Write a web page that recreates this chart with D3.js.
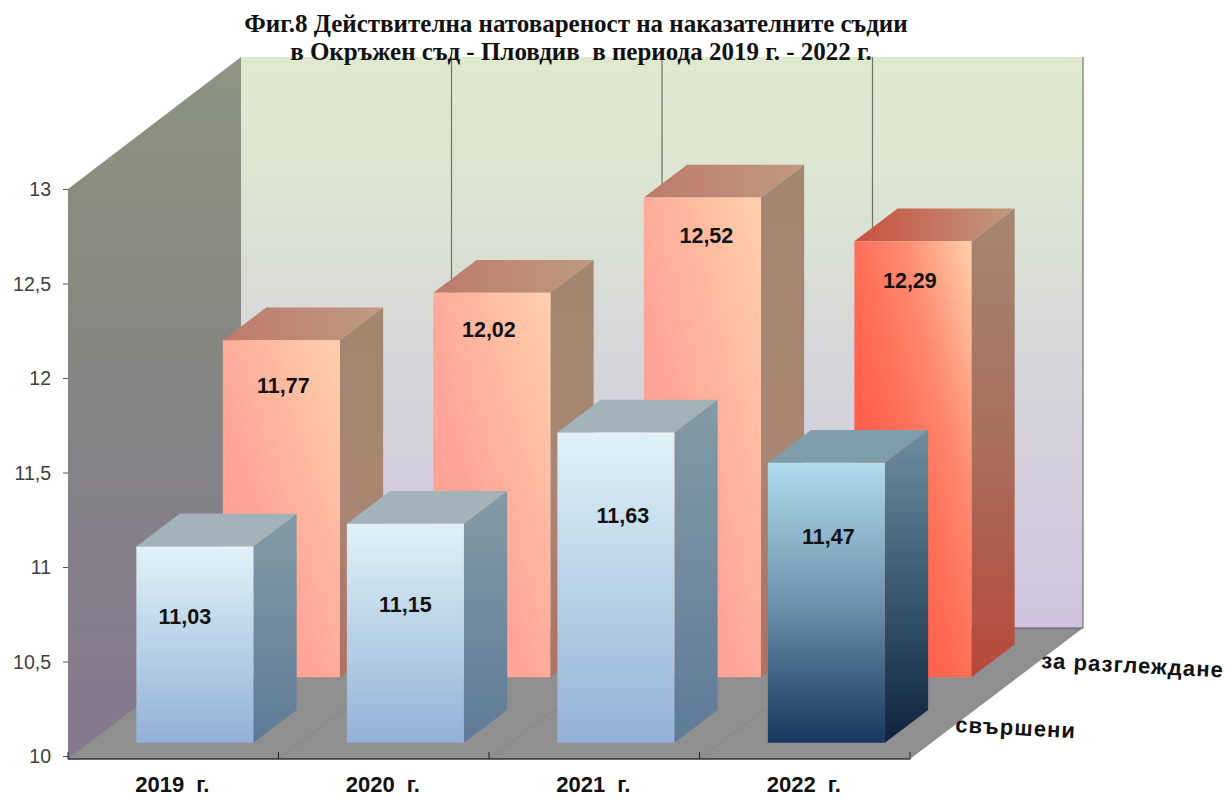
<!DOCTYPE html>
<html>
<head>
<meta charset="utf-8">
<script src="https://cdn.jsdelivr.net/npm/d3@7"></script>
<style>
  html, body { margin: 0; padding: 0; background: #fff; }
  svg { display: block; }
  .title { font-family: "Liberation Serif", serif; font-weight: bold; font-size: 25px; fill: #111; text-anchor: middle; white-space: pre; }
  .axis_label { font-family: "Liberation Sans", sans-serif; font-size: 19.5px; fill: #404040; text-anchor: end; }
  .cat_label { font-family: "Liberation Sans", sans-serif; font-weight: bold; font-size: 22px; word-spacing: 6px; fill: #111; text-anchor: middle; }
  .val_label { font-family: "Liberation Sans", sans-serif; font-weight: bold; font-size: 21.5px; fill: #111; text-anchor: middle; }
  .series_label { font-family: "Liberation Sans", sans-serif; font-weight: bold; font-size: 22px; letter-spacing: 1.1px; fill: #111; }
</style>
</head>
<body>
<div id="chart"></div>
<script>
var width = 1225, height = 798;

var categories = ["2019 г.", "2020 г.", "2021 г.", "2022 г."];
var seriesNames = ["свършени", "за разглеждане"];
var done = [11.03, 11.15, 11.63, 11.47];
var pending = [11.77, 12.02, 12.52, 12.29];
var yTicks = [10, 10.5, 11, 11.5, 12, 12.5, 13];
var titleLines = ["Фиг.8 Действителна натовареност на наказателните съдии",
                  "в Окръжен съд - Пловдив  в периода 2019 г. - 2022 г."];

var svg = d3.select("#chart").append("svg")
    .attr("width", width)
    .attr("height", height);
var defs = svg.append("defs");

// front plane scales
var x = d3.scaleBand().domain(categories).range([68, 910]).paddingInner(0.444).paddingOuter(0.222);
var xGrid = d3.scaleLinear().domain([0, 4]).range([68, 910]);
var y = d3.scaleLinear().domain([10, 13]).range([756, 189]);
// bars and back wall are a little taller than the printed axis
var h = d3.scaleLinear().domain([10, 13]).range([0, 571]);
// depth, 0 = front edge of the floor, 2 = back wall
var zx = d3.scaleLinear().domain([0, 2]).range([0, 173]);
var zy = d3.scaleLinear().domain([0, 2]).range([0, 131]);

var floorY = 759;
function px(xv, z) { return xv + zx(z); }
function py(val, z) { return floorY - zy(z) - h(val); }
function poly(pts) { return pts.map(function(p) { return p[0] + "," + p[1]; }).join(" "); }

function gradient(id, x1, y1, x2, y2, stops) {
    var g = defs.append("linearGradient").attr("id", id)
        .attr("x1", x1).attr("y1", y1).attr("x2", x2).attr("y2", y2);
    stops.forEach(function(s) {
        g.append("stop").attr("offset", s[0]).attr("stop-color", s[1]);
    });
}

gradient("wallBack", 0, 0, 0, 1, [[0, "#dfe9cf"], [0.2, "#dde6d0"], [0.55, "#d5d5da"], [1, "#cfc3df"]]);
gradient("wallLeft", 0, 0, 0, 1, [[0, "#8d9480"], [0.3, "#878a80"], [0.65, "#848088"], [1, "#86788f"]]);
gradient("redFront", 0, 1, 1, 0, [[0, "#ff9c90"], [0.4, "#ffa598"], [0.7, "#ffbaa0"], [1, "#ffd0ac"]]);
gradient("redSide", 0, 0, 0, 1, [[0, "#a3866f"], [0.55, "#a98673"], [1, "#b0705f"]]);
gradient("redTop", 0, 0, 1, 0, [[0, "#bd7a6b"], [1, "#c09a80"]]);
gradient("hotFront", 0, 1, 1, 0, [[0, "#ff4036"], [0.5, "#ff7058"], [0.7, "#ff8a70"], [1, "#ffd0aa"]]);
gradient("hotSide", 0, 0, 0, 1, [[0, "#a58670"], [0.5, "#a86f5c"], [1, "#b8483a"]]);
gradient("hotTop", 0, 0, 1, 0, [[0, "#c9503f"], [1, "#c09a80"]]);
gradient("blueFront", 0, 0, 0, 1, [[0, "#e0f1f8"], [0.5, "#bad2e6"], [1, "#94b0d8"]]);
gradient("blueSide", 0, 0, 0, 1, [[0, "#839ba5"], [1, "#5f7a98"]]);
gradient("darkFront", 0, 0, 0, 1, [[0, "#b0dcec"], [0.5, "#6c93ae"], [1, "#17375e"]]);
gradient("darkSide", 0, 0, 0, 1, [[0, "#6f8e9e"], [0.5, "#3b5a72"], [1, "#10233e"]]);

// walls and floor
svg.append("polygon").attr("fill", "url(#wallLeft)")
    .attr("points", poly([[68, y(13)], [px(68, 2), py(13, 2)], [px(68, 2), py(10, 2)], [68, floorY]]));
svg.append("polygon").attr("fill", "url(#wallBack)")
    .attr("points", poly([[px(68, 2), py(13, 2)], [px(910, 2), py(13, 2)], [px(910, 2), py(10, 2)], [px(68, 2), py(10, 2)]]));
svg.append("polygon").attr("fill", "#8f8f8f")
    .attr("points", poly([[68, floorY], [910, floorY], [px(910, 2), py(10, 2)], [px(68, 2), py(10, 2)]]));

// gridlines on the back wall and the floor
d3.range(1, 5).forEach(function(i) {
    svg.append("line").attr("stroke", "#6f7468").attr("stroke-width", 1.2)
        .attr("x1", px(xGrid(i), 2)).attr("x2", px(xGrid(i), 2))
        .attr("y1", py(13, 2)).attr("y2", py(10, 2));
});
d3.range(0, 4).forEach(function(i) {
    svg.append("line").attr("stroke", "#858585").attr("stroke-width", 1)
        .attr("x1", xGrid(i)).attr("y1", floorY)
        .attr("x2", px(xGrid(i), 2)).attr("y2", py(10, 2));
});
svg.append("line").attr("stroke", "#5d5a6b").attr("stroke-width", 1)
    .attr("x1", px(68, 2)).attr("x2", px(910, 2)).attr("y1", py(10, 2)).attr("y2", py(10, 2));

// one box: front, top and side faces
function drawBar(cat, val, z, front, side, top) {
    var x0 = x(cat), x1 = x0 + x.bandwidth();
    var z0 = z + 0.25, z1 = z + 0.75;
    var g = svg.append("g");
    g.append("polygon").attr("fill", top)
        .attr("points", poly([[px(x0, z0), py(val, z0)], [px(x1, z0), py(val, z0)], [px(x1, z1), py(val, z1)], [px(x0, z1), py(val, z1)]]));
    g.append("polygon").attr("fill", side)
        .attr("points", poly([[px(x1, z0), py(val, z0)], [px(x1, z1), py(val, z1)], [px(x1, z1), py(10, z1)], [px(x1, z0), py(10, z0)]]));
    g.append("polygon").attr("fill", front)
        .attr("points", poly([[px(x0, z0), py(val, z0)], [px(x1, z0), py(val, z0)], [px(x1, z0), py(10, z0)], [px(x0, z0), py(10, z0)]]));
}

// back row first, front row is over it
categories.forEach(function(c, i) {
    var last = i == categories.length - 1;
    drawBar(c, pending[i], 1, last ? "url(#hotFront)" : "url(#redFront)", last ? "url(#hotSide)" : "url(#redSide)", last ? "url(#hotTop)" : "url(#redTop)");
});
categories.forEach(function(c, i) {
    var last = i == categories.length - 1;
    drawBar(c, done[i], 0, last ? "url(#darkFront)" : "url(#blueFront)", last ? "url(#darkSide)" : "url(#blueSide)", last ? "#7f9dab" : "#a3b3ba");
});

// value labels are hand placed in the original, so nudge each one from its bar
var nudgeBackX = [2, -3, 4, -3], nudgeBackY = [53, 44, 46, 47];
var nudgeFrontX = [-10, 0, 7, 2], nudgeFrontY = [77, 88, 91, 81];
function fmt(v) { return v.toFixed(2).replace(".", ","); }
categories.forEach(function(c, i) {
    svg.append("text").attr("class", "val_label")
        .attr("x", px(x(c), 1.25) + x.bandwidth() / 2 + nudgeBackX[i])
        .attr("y", py(pending[i], 1.25) + nudgeBackY[i])
        .text(fmt(pending[i]));
    svg.append("text").attr("class", "val_label")
        .attr("x", px(x(c), 0.25) + x.bandwidth() / 2 + nudgeFrontX[i])
        .attr("y", py(done[i], 0.25) + nudgeFrontY[i])
        .text(fmt(done[i]));
});

// axes
var yAxis = d3.axisLeft(y).tickValues(yTicks).tickSize(5).tickFormat(function() { return ""; });
var yg = svg.append("g").attr("transform", "translate(68,0)").call(yAxis);
yg.select(".domain").remove();
yg.selectAll("line").attr("stroke", "#555");
yTicks.forEach(function(t) {
    svg.append("text").attr("class", "axis_label")
        .attr("x", 51).attr("y", y(t) + 7)
        .text(String(t).replace(".", ","));
});

svg.append("line").attr("stroke", "#333").attr("stroke-width", 1.5)
    .attr("x1", 68).attr("x2", 910).attr("y1", floorY).attr("y2", floorY);
d3.range(0, 5).forEach(function(i) {
    svg.append("line").attr("stroke", "#222")
        .attr("x1", xGrid(i)).attr("x2", xGrid(i)).attr("y1", floorY - 7).attr("y2", floorY);
});

categories.forEach(function(c) {
    svg.append("text").attr("class", "cat_label")
        .attr("x", x(c) + x.bandwidth() / 2 - 1)
        .attr("y", 792)
        .text(c);
});

// depth axis labels, tilted a little
svg.append("text").attr("class", "series_label")
    .attr("transform", "translate(955,732) rotate(3)").text(seriesNames[0]);
svg.append("text").attr("class", "series_label")
    .attr("transform", "translate(1041,668) rotate(3)").text(seriesNames[1]);

// title
var titleX = [576, 581], titleY = [32, 60];
titleLines.forEach(function(t, i) {
    svg.append("text").attr("class", "title")
        .attr("x", titleX[i]).attr("y", titleY[i])
        .text(t);
});
</script>
</body>
</html>
